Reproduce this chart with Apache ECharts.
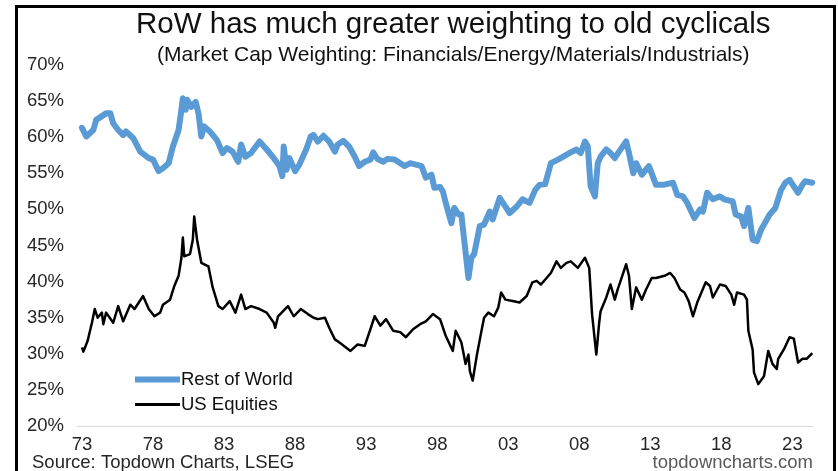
<!DOCTYPE html>
<html>
<head>
<meta charset="utf-8">
<script src="https://cdn.jsdelivr.net/npm/echarts@6/dist/echarts.min.js"></script>
<style>
html,body{margin:0;padding:0;background:#fff;}
#chart{width:838px;height:471px;}
</style>
</head>
<body>
<div id="chart"></div>
<script>
// Rest of World: financials/energy/materials/industrials market cap weight (%)
const rowYears = [1973.0,1973.3,1973.8,1974.0,1974.7,1975.0,1975.2,1975.55,1975.9,1976.1,1976.6,1977.1,1977.7,1978.0,1978.4,1978.7,1979.1,1979.4,1979.8,1980.0,1980.1,1980.3,1980.4,1980.7,1981.0,1981.2,1981.4,1981.6,1982.0,1982.5,1982.9,1983.2,1983.6,1984.0,1984.2,1984.5,1984.9,1985.5,1986.0,1986.5,1986.9,1987.1,1987.2,1987.4,1987.6,1988.0,1988.3,1988.8,1989.1,1989.3,1989.6,1990.0,1990.4,1990.8,1991.0,1991.4,1991.8,1992.2,1992.5,1992.9,1993.3,1993.5,1993.8,1994.2,1994.5,1995.0,1995.4,1995.7,1996.1,1996.5,1996.9,1997.2,1997.6,1997.8,1998.2,1998.4,1998.6,1999.0,1999.2,1999.5,1999.7,1999.9,2000.2,2000.4,2000.6,2001.0,2001.3,2001.7,2001.9,2002.4,2002.7,2003.1,2003.6,2004.0,2004.5,2004.9,2005.2,2005.6,2006.0,2006.6,2007.3,2007.8,2008.1,2008.4,2008.6,2008.8,2009.1,2009.3,2009.5,2009.9,2010.2,2010.5,2010.8,2011.3,2011.5,2011.8,2012.0,2012.4,2012.9,2013.4,2013.9,2014.6,2014.9,2015.3,2015.6,2016.1,2016.5,2016.7,2017.0,2017.4,2017.9,2018.2,2018.8,2019.0,2019.4,2019.6,2019.9,2020.2,2020.5,2020.8,2021.4,2021.8,2022.2,2022.5,2022.8,2023.1,2023.4,2023.7,2023.9,2024.4];
const rowValues = [61.3,60.1,61.0,62.4,63.3,63.3,61.9,61.0,60.3,60.8,59.9,58.0,57.1,56.9,55.3,55.7,56.4,58.7,61.0,63.8,65.4,63.8,65.2,64.2,64.9,63.3,60.1,61.5,60.8,59.6,57.8,58.5,58.0,56.6,59.0,57.3,57.8,59.4,58.3,57.1,56.0,54.6,58.7,55.5,57.1,55.3,56.2,58.4,60.1,60.3,59.4,60.2,59.4,58.0,59.0,59.5,58.7,57.3,56.0,56.6,56.9,57.9,57.0,56.6,57.0,56.9,56.4,56.0,56.4,56.2,56.0,54.4,54.8,53.0,53.1,52.5,50.9,48.1,50.2,49.3,49.3,45.8,40.5,43.3,43.8,47.7,47.9,49.7,48.6,51.6,50.7,49.5,50.4,51.4,50.9,52.7,53.4,53.5,56.4,57.0,57.8,58.3,57.8,59.4,58.7,53.2,51.8,56.4,57.3,58.3,57.8,57.1,58.0,59.4,57.8,55.0,56.4,54.8,56.0,53.4,53.4,53.7,52.0,51.8,50.9,48.8,50.0,49.7,52.3,51.4,51.8,51.4,51.1,49.3,49.0,47.7,50.2,45.8,45.6,47.2,49.3,50.2,52.7,53.7,54.1,53.2,52.3,53.4,53.9,53.7];

// US Equities (%)
const usYears = [1973.0,1973.1,1973.4,1973.7,1973.9,1974.1,1974.4,1974.5,1974.7,1975.2,1975.55,1975.9,1976.4,1976.7,1977.3,1977.7,1978.1,1978.5,1978.7,1979.2,1979.5,1979.8,1980.0,1980.1,1980.2,1980.6,1980.8,1980.9,1981.1,1981.4,1981.9,1982.2,1982.6,1982.9,1983.4,1983.8,1984.2,1984.5,1984.9,1985.5,1986.0,1986.5,1986.6,1986.8,1987.5,1987.9,1988.4,1988.9,1989.3,1989.6,1990.1,1990.4,1990.8,1991.1,1991.9,1992.4,1992.9,1993.3,1993.6,1994.0,1994.4,1994.9,1995.4,1995.8,1996.3,1996.8,1997.2,1997.7,1998.2,1998.6,1999.1,1999.3,1999.7,2000.0,2000.2,2000.3,2000.5,2000.8,2001.1,2001.3,2001.6,2002.0,2002.3,2002.5,2002.8,2003.3,2003.8,2004.3,2004.7,2005.0,2005.3,2005.7,2006.0,2006.4,2006.7,2007.1,2007.4,2007.9,2008.4,2008.7,2008.9,2009.2,2009.4,2009.5,2009.9,2010.2,2010.5,2010.7,2011.3,2011.5,2011.7,2012.0,2012.4,2012.7,2013.1,2013.4,2014.0,2014.4,2014.7,2015.1,2015.4,2015.7,2016.0,2016.3,2016.9,2017.2,2017.4,2017.9,2018.3,2018.7,2018.9,2019.1,2019.6,2019.8,2019.9,2020.2,2020.3,2020.6,2021.0,2021.3,2021.6,2021.9,2022.0,2022.4,2022.8,2023.1,2023.4,2023.7,2024.0,2024.4];
const usValues = [30.9,30.3,31.8,34.3,36.2,35.0,35.7,34.1,35.7,34.3,36.6,34.5,36.8,36.2,38.0,36.2,35.2,35.7,36.8,37.5,39.4,40.8,43.3,46.1,43.5,43.8,45.8,49.0,45.8,42.6,42.1,39.2,36.6,36.2,37.3,35.7,38.2,36.2,36.6,36.2,35.7,34.3,33.6,35.2,36.6,35.2,36.2,35.5,35.0,34.8,35.0,33.6,32.0,31.6,30.4,31.3,31.1,33.4,35.2,33.9,34.8,33.2,33.0,32.3,33.4,34.1,34.5,35.5,34.8,32.5,30.4,33.2,31.6,28.6,29.9,27.6,26.3,29.9,33.0,35.0,35.7,35.2,36.4,38.5,37.5,37.3,37.1,38.0,39.9,40.1,39.6,40.5,41.2,42.8,41.9,42.6,42.8,41.9,43.3,41.9,35.5,29.9,34.3,35.9,37.8,39.6,37.5,38.9,42.4,40.8,36.2,39.2,37.5,38.9,40.5,40.5,40.8,41.2,40.5,38.9,38.5,37.3,35.2,37.1,39.9,39.4,37.8,39.6,39.4,38.2,36.8,38.5,38.2,37.5,33.2,30.6,27.4,25.8,26.9,30.4,28.6,27.9,29.3,30.6,32.3,32.1,28.8,29.3,29.3,30.1];

const xTickYears = [1973,1978,1983,1988,1993,1998,2003,2008,2013,2018,2023];
const yTicks = [20,25,30,35,40,45,50,55,60,65,70];

const FONT = '"Liberation Sans", Arial, sans-serif';
const rowData = rowYears.map((y,i)=>[y,rowValues[i]]);
const usData = usYears.map((y,i)=>[y,usValues[i]]);

const legendText = {fontFamily:FONT, fontSize:18.5, color:'#111', padding:[0,0,0,-4]};

const chart = echarts.init(document.getElementById('chart'), null, {renderer:'canvas'});
chart.setOption({
  backgroundColor:'#ffffff',
  animation:false,
  title:[
    {text:'RoW has much greater weighting to old cyclicals', left:131, top:5,
     textStyle:{fontFamily:FONT, fontSize:29.5, fontWeight:'normal', color:'#111'}},
    {text:'(Market Cap Weighting: Financials/Energy/Materials/Industrials)', left:152, top:40,
     textStyle:{fontFamily:FONT, fontSize:21, fontWeight:'normal', color:'#111'}}
  ],
  grid:{left:77, right:25, top:65, bottom:45, containLabel:false},
  legend:[
    {left:130, top:365, itemWidth:45, itemHeight:6, icon:'rect',
     textStyle:legendText, data:['Rest of World']},
    {left:130, top:390, itemWidth:45, itemHeight:3, icon:'rect',
     textStyle:legendText, data:['US Equities']}
  ],
  xAxis:{
    type:'value', min:1972.65, max:2024.45,
    axisLine:{show:true, lineStyle:{color:'#d9d9d9', width:1}},
    axisTick:{show:false},
    splitLine:{show:false},
    axisLabel:{
      customValues:xTickYears, margin:9,
      fontFamily:FONT, fontSize:18.5, color:'#262626',
      formatter:v=>String(Math.round(v)).slice(2)
    }
  },
  yAxis:{
    type:'value', min:20, max:70, interval:5,
    axisLine:{show:false}, axisTick:{show:false}, splitLine:{show:false},
    axisLabel:{margin:13, fontFamily:FONT, fontSize:18.5, color:'#262626', formatter:'{value}%'}
  },
  series:[
    {name:'Rest of World', type:'line', data:rowData, symbol:'none', z:2,
     lineStyle:{color:'#5B9BD5', width:6, join:'round', cap:'round'}, itemStyle:{color:'#5B9BD5'}},
    {name:'US Equities', type:'line', data:usData, symbol:'none', z:3,
     lineStyle:{color:'#000000', width:2.5, join:'round'}, itemStyle:{color:'#000000'}}
  ],
  graphic:[
    {type:'rect', shape:{x:16.5, y:6.5, width:818, height:480}, silent:true,
     style:{fill:null, stroke:'#000', lineWidth:3}, z:100},
    {type:'text', left:32, top:453, silent:true,
     style:{text:'Source: Topdown Charts, LSEG', fontFamily:FONT, fontSize:18.5, fill:'#262626'}},
    {type:'text', right:25, top:453, silent:true,
     style:{text:'topdowncharts.com', fontFamily:FONT, fontSize:18.5, fill:'#595959'}}
  ]
});
</script>
</body>
</html>
